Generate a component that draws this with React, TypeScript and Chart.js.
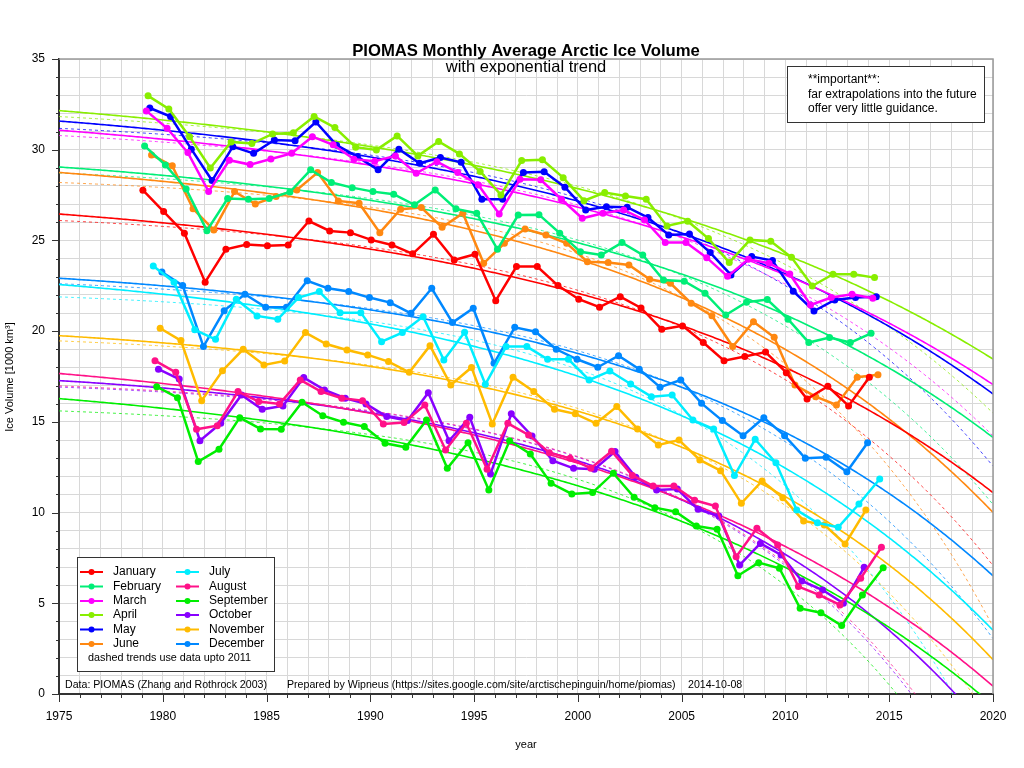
import React, { useEffect, useRef } from 'react';
import { Chart, registerables } from 'chart.js';

Chart.register(...registerables);

// ---------- data (1000 km³), first value = 1979 ----------
const firstYear = 1979;
const monthNames = ['January', 'February', 'March', 'April', 'May', 'June', 'July', 'August', 'September', 'October', 'November', 'December'];
const monthColors = ['#ff0000', '#00ee77', '#ff00ff', '#88ee00', '#0000ff', '#ff8811', '#00eeff', '#ff1188', '#00ee00', '#8800ff', '#ffbb00', '#0088ff'];

const jan = [27.77, 26.59, 25.4, 22.7, 24.51, 24.77, 24.7, 24.75, 26.07, 25.52, 25.43, 25.03, 24.75, 24.26, 25.34, 23.92, 24.24, 21.68, 23.56, 23.56, 22.51, 21.76, 21.32, 21.9, 21.28, 20.1, 20.29, 19.37, 18.37, 18.6, 18.85, 17.71, 16.26, 16.96, 15.88, 17.46];
const feb = [30.21, 29.16, 27.84, 25.54, 27.31, 27.27, 27.31, 27.67, 28.89, 28.19, 27.91, 27.69, 27.55, 26.96, 27.78, 26.74, 26.5, 24.51, 26.4, 26.42, 25.4, 24.37, 24.2, 24.88, 24.2, 22.82, 22.75, 22.09, 20.89, 21.59, 21.74, 20.66, 19.37, 19.65, 19.37, 19.88];
const mar = [32.14, 31.18, 29.84, 27.69, 29.42, 29.18, 29.49, 29.8, 30.72, 30.27, 29.48, 29.37, 29.66, 28.7, 29.34, 28.74, 28.06, 26.46, 28.37, 28.34, 27.27, 26.22, 26.5, 26.68, 26.13, 24.88, 24.88, 24.05, 23.02, 23.96, 23.74, 23.15, 21.44, 21.85, 22.03, 21.81];
const apr = [32.97, 32.25, 30.72, 28.99, 30.43, 30.34, 30.87, 30.94, 31.83, 31.22, 30.14, 29.99, 30.76, 29.66, 30.45, 29.77, 28.8, 27.51, 29.4, 29.44, 28.46, 27.19, 27.64, 27.45, 27.27, 25.8, 26.06, 25.1, 23.78, 25.03, 24.95, 24.07, 22.49, 23.14, 23.14, 22.95];
const may = [32.3, 31.83, 30.03, 28.3, 30.17, 29.8, 30.54, 30.5, 31.53, 30.25, 29.62, 28.89, 30.03, 29.25, 29.57, 29.31, 27.27, 27.27, 28.74, 28.79, 27.93, 26.68, 26.86, 26.83, 26.26, 25.3, 25.35, 24.33, 23.1, 24.11, 23.89, 22.2, 21.11, 21.72, 21.85, 21.9];
const jun = [29.71, 29.11, 26.74, 25.58, 27.69, 27.01, 27.42, 27.78, 28.74, 27.18, 27.05, 25.43, 26.72, 26.81, 25.72, 26.5, 23.74, 24.84, 25.63, 25.3, 24.84, 23.83, 23.78, 23.65, 22.86, 22.64, 21.54, 20.85, 19.15, 20.52, 19.66, 17.03, 16.39, 15.93, 17.46, 17.6];
const jul = [23.59, 22.7, 20.07, 19.55, 21.76, 20.84, 20.66, 21.85, 22.18, 21.02, 21.02, 19.42, 19.92, 20.8, 18.41, 19.94, 17.07, 19.15, 19.15, 18.45, 18.45, 17.31, 17.8, 17.09, 16.39, 16.48, 15.1, 14.61, 12.04, 14.04, 12.74, 10.14, 9.44, 9.19, 10.47, 11.85];
const aug = [18.37, 17.73, 14.59, 14.79, 16.67, 16.12, 15.99, 17.31, 16.67, 16.3, 16.17, 14.88, 14.96, 15.93, 13.45, 14.92, 12.39, 14.92, 14.28, 13.3, 12.99, 12.44, 13.38, 12.05, 11.47, 11.47, 10.68, 10.36, 7.57, 9.13, 8.21, 5.92, 5.46, 4.91, 6.38, 8.09];
const sep = [16.94, 16.33, 12.81, 13.49, 15.23, 14.61, 14.59, 16.08, 15.34, 14.98, 14.74, 13.82, 13.6, 15.1, 12.44, 13.85, 11.25, 13.96, 13.23, 11.61, 11.03, 11.1, 12.17, 10.84, 10.27, 10.05, 9.26, 9.08, 6.52, 7.24, 6.93, 4.72, 4.48, 3.77, 5.46, 6.96];
const oct = [17.9, 17.36, 13.96, 14.92, 16.48, 15.69, 15.88, 17.44, 16.76, 16.3, 15.99, 15.29, 15.07, 16.61, 13.96, 15.25, 12.13, 15.44, 14.22, 12.86, 12.44, 12.39, 13.36, 11.95, 11.25, 11.3, 10.18, 9.81, 7.11, 8.3, 7.66, 6.23, 5.73, 5.0, 6.98];
const nov = [20.16, 19.48, 16.17, 17.82, 19.0, 18.14, 18.36, 19.92, 19.29, 18.96, 18.69, 18.32, 17.73, 19.2, 17.03, 18.0, 14.88, 17.46, 16.67, 15.69, 15.44, 14.92, 15.84, 14.61, 13.73, 14.0, 12.9, 12.31, 10.51, 11.74, 10.82, 9.54, 9.32, 8.27, 10.14];
const dec = [23.26, 22.51, 19.15, 21.13, 22.03, 21.32, 21.32, 22.78, 22.36, 22.18, 21.85, 21.57, 20.98, 22.36, 20.47, 21.26, 18.23, 20.21, 19.97, 19.0, 18.45, 18.01, 18.65, 17.9, 16.91, 17.31, 16.02, 15.07, 14.24, 15.23, 14.24, 12.99, 13.05, 12.25, 13.85];

const monthSeries = [jan, feb, mar, apr, may, jun, jul, aug, sep, oct, nov, dec];
const dashedCutoffYear = 2011;
const xMin = 1975;
const xMax = 2020;

const FONT = '"Liberation Sans", Arial, Helvetica, sans-serif';

// exponential trend  v = a + b*exp(c*(t-1979)), least squares with a scan over c
function fitExp(xs: number[], ys: number[]) {
  const n = xs.length;
  let best = { sse: Infinity, a: 0, b: 0, c: 0 };
  for (let c = 0.0005; c <= 0.4; c += 0.0005) {
    const f = xs.map((x) => Math.exp(c * (x - 1979)));
    const mf = f.reduce((s, v) => s + v, 0) / n;
    const my = ys.reduce((s, v) => s + v, 0) / n;
    let sff = 0, sfy = 0;
    for (let i = 0; i < n; i++) {
      sff += (f[i] - mf) * (f[i] - mf);
      sfy += (f[i] - mf) * (ys[i] - my);
    }
    const b = sfy / sff;
    const a = my - b * mf;
    let sse = 0;
    for (let i = 0; i < n; i++) {
      const r = ys[i] - a - b * f[i];
      sse += r * r;
    }
    if (sse < best.sse) best = { sse, a, b, c };
  }
  return (x: number) => best.a + best.b * Math.exp(best.c * (x - 1979));
}

function hexToRgba(hex: string, a: number) {
  const r = parseInt(hex.slice(1, 3), 16);
  const g = parseInt(hex.slice(3, 5), 16);
  const b = parseInt(hex.slice(5, 7), 16);
  return `rgba(${r},${g},${b},${a})`;
}

const overlayPlugin = {
  id: 'overlay',
  afterDraw(chart: any) {
    const ctx = chart.ctx as CanvasRenderingContext2D;
    const ca = chart.chartArea;
    const xs = chart.scales.x;
    const ys = chart.scales.y;
    ctx.save();

    // frame top/right
    ctx.strokeStyle = '#999';
    ctx.lineWidth = 1.5;
    ctx.beginPath();
    ctx.moveTo(ca.left, ca.top);
    ctx.lineTo(ca.right, ca.top);
    ctx.lineTo(ca.right, ca.bottom);
    ctx.stroke();

    // tick marks
    ctx.strokeStyle = '#333';
    ctx.lineWidth = 1;
    ctx.beginPath();
    for (let yr = xMin; yr <= xMax; yr++) {
      const px = Math.round(xs.getPixelForValue(yr)) + 0.5;
      ctx.moveTo(px, ca.bottom);
      ctx.lineTo(px, ca.bottom + (yr % 5 === 0 ? 8 : 4));
    }
    for (let v = 0; v <= 35; v++) {
      const py = Math.round(ys.getPixelForValue(v)) + 0.5;
      ctx.moveTo(ca.left, py);
      ctx.lineTo(ca.left - (v % 5 === 0 ? 7 : 3), py);
    }
    ctx.stroke();

    // titles
    ctx.fillStyle = '#000';
    ctx.textAlign = 'center';
    ctx.textBaseline = 'middle';
    ctx.font = `bold 16.7px ${FONT}`;
    ctx.fillText('PIOMAS Monthly Average Arctic Ice Volume', 526, 51);
    ctx.font = `16.5px ${FONT}`;
    ctx.fillText('with exponential trend', 526, 67);

    // axis titles
    ctx.font = `11px ${FONT}`;
    ctx.fillText('year', 526, 745);
    ctx.save();
    ctx.translate(10, 377);
    ctx.rotate(-Math.PI / 2);
    ctx.fillText('Ice Volume [1000 km³]', 0, 0);
    ctx.restore();

    // note box
    ctx.fillStyle = '#fff';
    ctx.fillRect(787, 66, 197, 56);
    ctx.strokeStyle = '#333';
    ctx.lineWidth = 1;
    ctx.strokeRect(787.5, 66.5, 197, 56);
    ctx.fillStyle = '#000';
    ctx.textAlign = 'left';
    ctx.font = `12px ${FONT}`;
    ctx.fillText('**important**:', 808, 80);
    ctx.fillText('far extrapolations into the future', 808, 94.5);
    ctx.fillText('offer very little guidance.', 808, 109);

    // legend box
    ctx.fillStyle = '#fff';
    ctx.fillRect(77, 557, 197, 115);
    ctx.strokeStyle = '#333';
    ctx.strokeRect(77.5, 557.5, 197, 114);
    const rowY = [572, 586.5, 601, 615, 629.5, 644];
    for (let i = 0; i < 12; i++) {
      const col = i < 6 ? 0 : 1;
      const y = rowY[i % 6];
      const x0 = col === 0 ? 80 : 176;
      ctx.strokeStyle = monthColors[i];
      ctx.lineWidth = 2;
      ctx.beginPath();
      ctx.moveTo(x0, y);
      ctx.lineTo(x0 + 23, y);
      ctx.stroke();
      ctx.fillStyle = monthColors[i];
      ctx.beginPath();
      ctx.arc(x0 + 11.5, y, 3, 0, Math.PI * 2);
      ctx.fill();
      ctx.fillStyle = '#000';
      ctx.font = `12px ${FONT}`;
      ctx.fillText(monthNames[i], col === 0 ? 113 : 209, y);
    }
    ctx.font = `10.8px ${FONT}`;
    ctx.fillText('dashed trends use data upto 2011', 88, 658);

    // footer
    ctx.font = `10.6px ${FONT}`;
    ctx.fillText('Data: PIOMAS (Zhang and Rothrock 2003)', 65, 685);
    ctx.fillText('Prepared by Wipneus (https://sites.google.com/site/arctischepinguin/home/piomas)', 287, 685);
    ctx.fillText('2014-10-08', 688, 685);

    ctx.restore();
  },
};

export default function App() {
  const canvasRef = useRef<HTMLCanvasElement | null>(null);

  useEffect(() => {
    if (!canvasRef.current) return;
    const dataSets: any[] = [];
    monthSeries.forEach((vals, m) => {
      const pts = vals.map((v, i) => ({ x: firstYear + i + (m + 0.5) / 12, y: v }));
      dataSets.push({
        label: monthNames[m],
        data: pts,
        borderColor: monthColors[m],
        backgroundColor: monthColors[m],
        borderWidth: 2.5,
        pointRadius: 3.5,
        pointBorderWidth: 0,
        pointBackgroundColor: monthColors[m],
        order: 0,
        clip: 2,
      });
    });
    monthSeries.forEach((vals, m) => {
      const xsAll = vals.map((_, i) => firstYear + i + (m + 0.5) / 12);
      const fAll = fitExp(xsAll, vals);
      const xsCut = xsAll.filter((x) => x < dashedCutoffYear + 1);
      const fCut = fitExp(xsCut, vals.slice(0, xsCut.length));
      const solid: any[] = [];
      const dashed: any[] = [];
      for (let k = 0; k <= 450; k++) {
        const x = xMin + k * 0.1;
        solid.push({ x, y: fAll(x) });
        dashed.push({ x, y: fCut(x) });
      }
      dataSets.push({
        label: monthNames[m] + ' trend',
        data: solid,
        borderColor: monthColors[m],
        borderWidth: 1.6,
        pointRadius: 0,
        order: 2,
      });
      dataSets.push({
        label: monthNames[m] + ' trend to 2011',
        data: dashed,
        borderColor: hexToRgba(monthColors[m], 0.75),
        borderWidth: 1,
        borderDash: [3, 3],
        pointRadius: 0,
        order: 3,
      });
    });

    const chart = new Chart(canvasRef.current, {
      type: 'line',
      data: { datasets: dataSets },
      options: {
        animation: false,
        responsive: false,
        devicePixelRatio: 1,
        layout: { padding: { top: 59, right: 31, left: 0, bottom: 0 } },
        plugins: {
          legend: { display: false },
          title: { display: false },
          tooltip: { enabled: false },
        },
        scales: {
          x: {
            type: 'linear',
            min: xMin,
            max: xMax,
            afterFit: (s: any) => { s.height = 74; },
            ticks: {
              stepSize: 1,
              autoSkip: false,
              maxRotation: 0,
              minRotation: 0,
              padding: 15,
              color: '#000',
              font: { family: FONT, size: 12 },
              callback: (v: any) => (Number(v) % 5 === 0 ? String(v) : ''),
            },
            grid: { color: '#d8d8d8', lineWidth: 1, drawTicks: false },
            border: { color: '#333', width: 2 },
          },
          y: {
            type: 'linear',
            min: 0,
            max: 35,
            afterFit: (s: any) => { s.width = 59; },
            ticks: {
              stepSize: 1,
              autoSkip: false,
              padding: 14,
              color: '#000',
              font: { family: FONT, size: 12 },
              callback: (v: any) => (Number(v) % 5 === 0 ? String(v) : ''),
            },
            grid: { color: '#d8d8d8', lineWidth: 1, drawTicks: false },
            border: { color: '#333', width: 2 },
          },
        },
      } as any,
      plugins: [overlayPlugin],
    });
    return () => chart.destroy();
  }, []);

  return (
    <div style={{ position: 'fixed', left: 0, top: 0, width: 1024, height: 768, background: '#fff' }}>
      <canvas ref={canvasRef} width={1024} height={768} style={{ width: 1024, height: 768, display: 'block' }} />
    </div>
  );
}
